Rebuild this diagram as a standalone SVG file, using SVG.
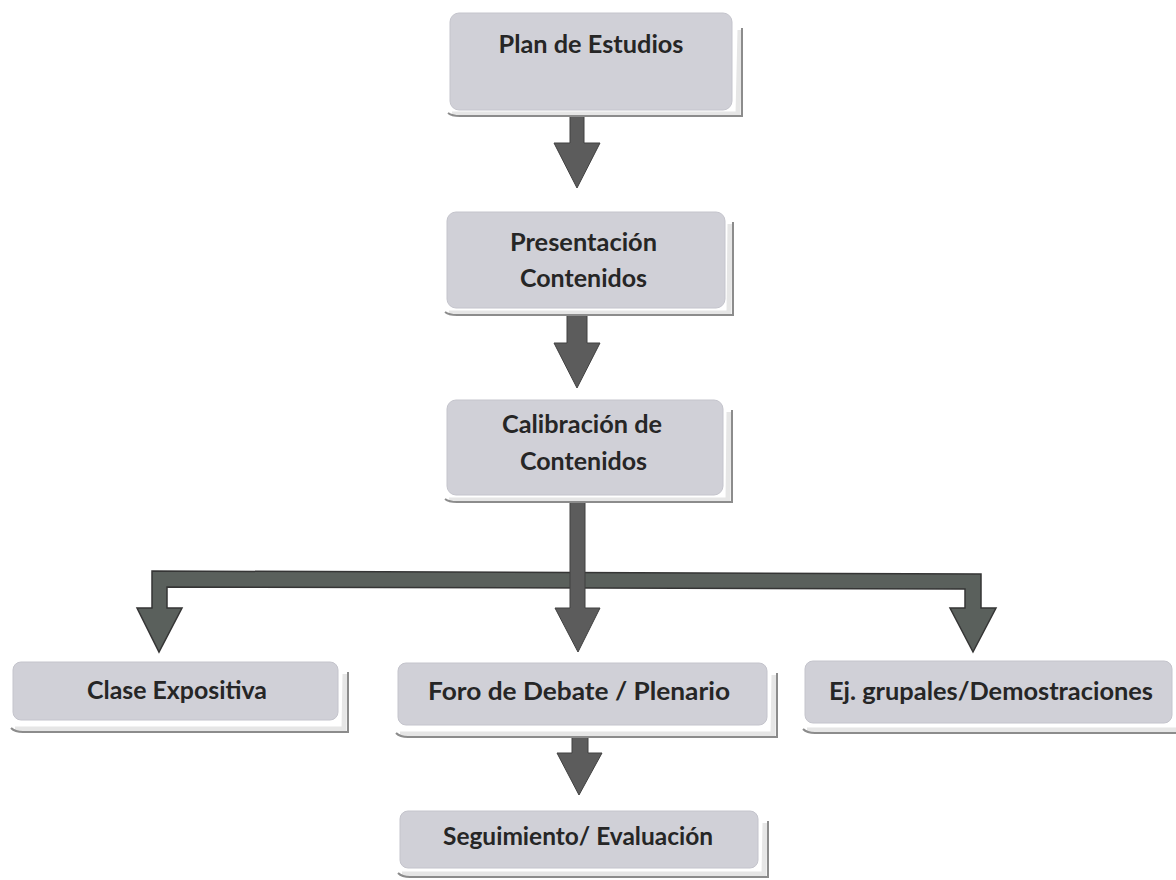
<svg xmlns="http://www.w3.org/2000/svg" width="1176" height="880" viewBox="0 0 1176 880">
<defs>
<style>
.box{fill:#d0d0d7;stroke:#c4c4cc;stroke-width:1}
.curl{fill:none;stroke:#8c8c8c;stroke-width:2}
.band{fill:none;stroke:#e6e6e6;stroke-width:5}
.lbl{font-family:Lato,"Liberation Sans",sans-serif;font-weight:bold;font-size:25px;fill:#262626;text-anchor:middle}
.arrow{fill:#5c5c5c;stroke:#404040;stroke-width:1}
.bar{fill:#5a605c;stroke:#353535;stroke-width:1.5}
</style>
</defs>
<rect width="1176" height="880" fill="#ffffff"/>

<g id="connectors">
<polygon class="arrow" points="570,113 584,113 584,143 600,143 577,188 554,143 570,143"/>
<polygon class="arrow" points="567,313 587,313 587,343 600,343 577,388 554,343 567,343"/>
<polygon class="bar" points="152,571 981,574 981,608 996,608 973,652 950,608 965,608 965,589 167,587 167,608 182,608 159,652 137,608 152,608"/>
<polygon class="arrow" points="570,500 585,500 585,608 600,608 578,652 555,608 570,608"/>
<polygon class="arrow" points="572,733 588,733 588,753 602,753 579,795 557,753 572,753"/>
</g>

<g id="plan">
<path class="band" d="M452,114 L738,114 L740,30"/>
<path class="curl" d="M448,113 Q452,116 460,116 L742,116 L742,28"/>
<rect class="box" x="450" y="13" width="282" height="97" rx="9"/>
<text class="lbl" x="591" y="53" textLength="185" lengthAdjust="spacingAndGlyphs">Plan de Estudios</text>
</g>

<g id="presentacion">
<path class="band" d="M449,313 L729,313 L730,224"/>
<path class="curl" d="M445,312 Q449,315 457,315 L733,315 L733,222"/>
<rect class="box" x="447" y="212" width="278" height="96" rx="9"/>
<text class="lbl" x="583.5" y="251" textLength="147" lengthAdjust="spacingAndGlyphs">Presentación</text>
<text class="lbl" x="583.5" y="287" textLength="127" lengthAdjust="spacingAndGlyphs">Contenidos</text>
</g>

<g id="calibracion">
<path class="band" d="M449,500 L728,500 L729,412"/>
<path class="curl" d="M445,499 Q449,502 457,502 L732,502 L732,410"/>
<rect class="box" x="447" y="400" width="276" height="95" rx="9"/>
<text class="lbl" x="582" y="433" textLength="160" lengthAdjust="spacingAndGlyphs">Calibración de</text>
<text class="lbl" x="583.5" y="470" textLength="127" lengthAdjust="spacingAndGlyphs">Contenidos</text>
</g>

<g id="clase">
<path class="band" d="M15,729 L344,729 L345,674"/>
<path class="curl" d="M11,728 Q15,732 23,732 L348,732 L348,672"/>
<rect class="box" x="13" y="662" width="325" height="58" rx="8"/>
<text class="lbl" x="177" y="699" textLength="180" lengthAdjust="spacingAndGlyphs">Clase Expositiva</text>
</g>

<g id="foro">
<path class="band" d="M400,734 L773,734 L774,675"/>
<path class="curl" d="M396,733 Q400,737 408,737 L777,737 L777,673"/>
<rect class="box" x="398" y="663" width="369" height="62" rx="8"/>
<text class="lbl" x="579" y="700" textLength="302" lengthAdjust="spacingAndGlyphs">Foro de Debate / Plenario</text>
</g>

<g id="ejercicios">
<path class="band" d="M807,730 L1176,730"/>
<path class="curl" d="M803,729 Q807,733 815,733 L1176,733"/>
<rect class="box" x="805" y="661" width="367" height="62" rx="8"/>
<text class="lbl" x="991" y="700" textLength="324" lengthAdjust="spacingAndGlyphs">Ej. grupales/Demostraciones</text>
</g>

<g id="seguimiento">
<path class="band" d="M402,874 L764,874 L765,823"/>
<path class="curl" d="M398,873 Q402,877 410,877 L768,877 L768,821"/>
<rect class="box" x="400" y="811" width="358" height="57" rx="8"/>
<text class="lbl" x="578" y="845" textLength="270" lengthAdjust="spacingAndGlyphs">Seguimiento/ Evaluación</text>
</g>
</svg>
